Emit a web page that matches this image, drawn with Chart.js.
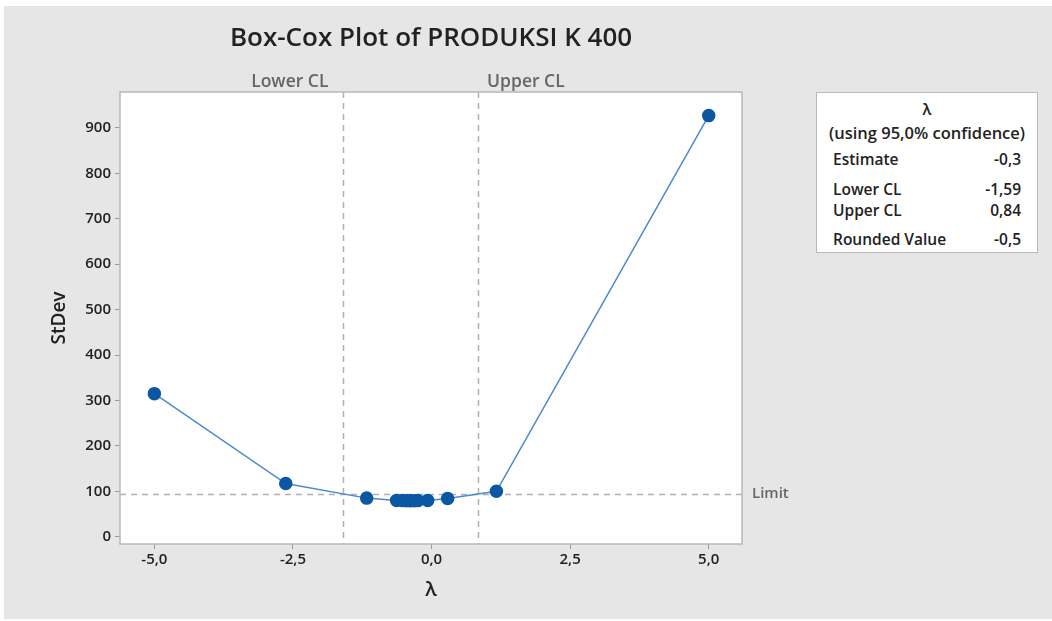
<!DOCTYPE html>
<html>
<head>
<meta charset="utf-8">
<script src="https://cdn.jsdelivr.net/npm/chart.js@4.4.1/dist/chart.umd.min.js"></script>
<style>
  html, body { margin:0; padding:0; background:#ffffff; }
  #bg { position:absolute; left:4px; top:6px; width:1048px; height:613px; background:#e6e6e6; }
  #wrap { position:absolute; left:0; top:0; width:1052px; height:621px; }
  #legend { position:absolute; left:816px; top:92px; width:220px; height:159px; background:#fff;
            border:1.5px solid #b8b8b8; font-family:"Open Sans", sans-serif; font-weight:600;
            font-size:15.5px; color:#222; }
  #legend div { position:absolute; line-height:20px; white-space:nowrap; }
  .c { left:0; right:0; text-align:center; }
  .l { left:16px; }
  .r { right:16px; text-align:right; }
</style>
</head>
<body>
<div id="bg"></div>
<div id="wrap"><canvas id="chart" width="1052" height="621"></canvas></div>
<div id="legend"></div>
<script>
// ---- data ----
const lambdaValues = [-5, -2.63, -1.17, -0.63, -0.52, -0.45, -0.38, -0.31, -0.25, -0.07, 0.29, 1.17, 5];
const stdevValues  = [315, 117, 85, 80, 79.5, 79, 79, 79, 79.5, 80, 84, 100, 927];
const xTicks = [-5, -2.5, 0, 2.5, 5];
const yTicks = [0, 100, 200, 300, 400, 500, 600, 700, 800, 900];
const lowerCL = -1.59;
const upperCL = 0.84;
const limitValue = 95;
const legendTitle = "λ";
const legendSubtitle = "(using 95,0% confidence)";
const legendRows = [["Estimate", "-0,3"], ["Lower CL", "-1,59"], ["Upper CL", "0,84"], ["Rounded Value", "-0,5"]];

// ---- legend box ----
const lg = document.getElementById('legend');
const rowCenters = [66, 96, 117, 146];
function addDiv(cls, center, text, size){ const d=document.createElement('div'); d.className=cls; d.style.top=(center-10)+'px'; d.textContent=text; if(size) d.style.fontSize=size; lg.appendChild(d); }
addDiv('c', 16, legendTitle);
addDiv('c', 40, legendSubtitle, '16.5px');
legendRows.forEach((r,i)=>{ addDiv('l', rowCenters[i], r[0]); addDiv('r', rowCenters[i], r[1]); });

const fmt = v => v.toFixed(1).replace('.', ',');
const FONT = '"Open Sans", sans-serif';

const refPlugin = {
  id: 'refLines',
  beforeDraw(chart){
    const {ctx, chartArea:a} = chart;
    ctx.save(); ctx.fillStyle = '#ffffff';
    ctx.fillRect(a.left, a.top, a.right-a.left, a.bottom-a.top); ctx.restore();
  },
  beforeDatasetsDraw(chart){
    const {ctx, chartArea:a, scales:{x, y}} = chart;
    ctx.save();
    ctx.strokeStyle = '#b0b0b0'; ctx.lineWidth = 1.5; ctx.setLineDash([6,5]);
    [lowerCL, upperCL].forEach(v => {
      const px = Math.round(x.getPixelForValue(v)) + 0.5;
      ctx.beginPath(); ctx.moveTo(px, a.top); ctx.lineTo(px, a.bottom); ctx.stroke();
    });
    const py = Math.round(y.getPixelForValue(limitValue)) + 0.5;
    ctx.beginPath(); ctx.moveTo(a.left, py); ctx.lineTo(a.right, py); ctx.stroke();
    ctx.restore();
  },
  afterDraw(chart){
    const {ctx, chartArea:a, scales:{x, y}} = chart;
    ctx.save();
    ctx.strokeStyle = '#b8b8b8'; ctx.lineWidth = 1.5;
    ctx.strokeRect(a.left, a.top, a.right-a.left, a.bottom-a.top);
    ctx.fillStyle = '#666666'; ctx.font = '600 17.5px ' + FONT; ctx.textBaseline = 'middle';
    ctx.textAlign = 'right';
    ctx.fillText('Lower CL', x.getPixelForValue(lowerCL) - 15, a.top - 10);
    ctx.textAlign = 'left';
    ctx.fillText('Upper CL', x.getPixelForValue(upperCL) + 9, a.top - 10);
    ctx.font = '600 15px ' + FONT;
    ctx.fillText('Limit', a.right + 10, y.getPixelForValue(limitValue));
    ctx.restore();
  }
};

new Chart(document.getElementById('chart'), {
  type: 'scatter',
  data: {
    datasets: [{
      data: lambdaValues.map((v,i)=>({x:v, y:stdevValues[i]})),
      showLine: true,
      borderColor: '#4a8ad0',
      borderWidth: 1.5,
      pointBackgroundColor: '#0b57a4',
      pointBorderColor: '#0b57a4',
      pointRadius: 6,
      pointHoverRadius: 6,
      pointStyle: 'circle'
    }]
  },
  options: {
    responsive: false,
    animation: false,
    events: [],
    layout: { padding: { left: 0, right: 310, top: 0, bottom: 0 } },
    plugins: {
      legend: { display: false },
      tooltip: { enabled: false },
      title: {
        display: true, fullSize: false,
        text: 'Box-Cox Plot of PRODUKSI K 400',
        color: '#222', font: { family: FONT, size: 26, weight: '600' },
        padding: { top: 23, bottom: 37.8 }
      }
    },
    scales: {
      x: {
        type: 'linear', min: -5.62, max: 5.6,
        afterBuildTicks: s => { s.ticks = xTicks.map(v=>({value:v})); },
        afterFit: s => { s.height = 77; },
        grid: { display: true, drawOnChartArea: false, tickLength: 5, color: '#999' },
        border: { display: false },
        ticks: { color: '#222', font: { family: FONT, size: 15, weight: '600' }, padding: 2, callback: v => fmt(v), maxRotation: 0 },
        title: { display: true, text: 'λ', color: '#222', font: { family: FONT, size: 20, weight: '600' }, padding: { top: 0, bottom: 19 } }
      },
      y: {
        type: 'linear', min: -16, max: 979,
        afterBuildTicks: s => { s.ticks = yTicks.map(v=>({value:v})); },
        afterFit: s => { s.width = 120; },
        grid: { display: true, drawOnChartArea: false, tickLength: 5, color: '#999' },
        border: { display: false },
        ticks: { color: '#222', font: { family: FONT, size: 15, weight: '600' }, padding: 4, callback: v => String(v) },
        title: { display: true, text: 'StDev', color: '#222', font: { family: FONT, size: 19, weight: '600' }, padding: { top: 48, bottom: 0 } }
      }
    }
  },
  plugins: [refPlugin]
});
</script>
</body>
</html>
